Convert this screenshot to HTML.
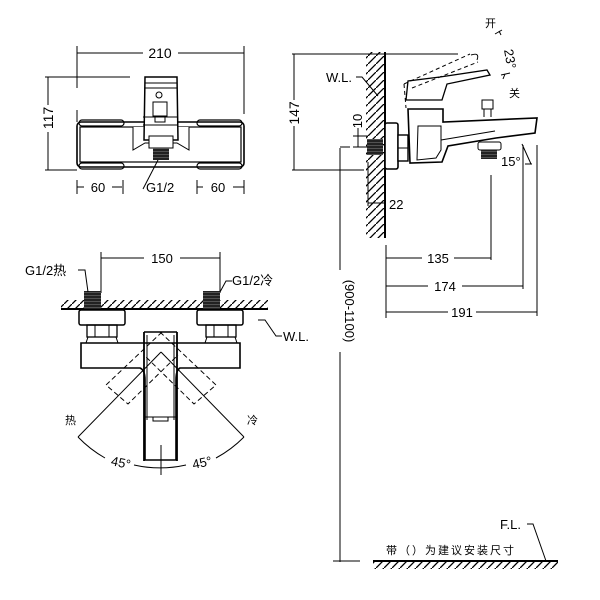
<!DOCTYPE html>
<html><head><meta charset="utf-8"><style>
html,body{margin:0;padding:0;background:#fff}
svg{display:block}
text{font-family:"Liberation Sans","Noto Sans CJK SC",sans-serif;fill:#000}
</style></head><body>
<svg width="600" height="600" viewBox="0 0 600 600" xmlns="http://www.w3.org/2000/svg">
<defs>
<pattern id="h" width="8" height="8" patternUnits="userSpaceOnUse">
<line x1="0" y1="8" x2="8" y2="0" stroke="#000" stroke-width="1.3"/>
</pattern>
<pattern id="thr" width="4" height="3" patternUnits="userSpaceOnUse">
<rect width="4" height="3" fill="#222"/><line x1="0" y1="1.5" x2="4" y2="1.5" stroke="#666" stroke-width="0.7"/>
</pattern>
</defs>
<g stroke="#000" fill="none" stroke-width="1">
<line x1="77" y1="53" x2="143" y2="53"/><line x1="178" y1="53" x2="244" y2="53"/>
<line x1="77" y1="46" x2="77" y2="88"/><line x1="244" y1="46" x2="244" y2="114"/>
<line x1="45" y1="77" x2="130" y2="77"/><line x1="45" y1="170" x2="77" y2="170"/>
<line x1="48" y1="77" x2="48" y2="105"/><line x1="48" y1="132" x2="48" y2="170"/>
<line x1="77" y1="110" x2="77" y2="122"/>
<rect x="77" y="122" width="167" height="45" rx="4" stroke-width="1.6"/>
<rect x="80" y="127" width="161" height="35" stroke-width="1.2"/>
<rect x="79" y="120" width="45" height="6" rx="3" stroke-width="1.2"/>
<rect x="197" y="120" width="45" height="6" rx="3" stroke-width="1.2"/>
<rect x="79" y="163" width="45" height="6" rx="3" stroke-width="1.2"/>
<rect x="197" y="163" width="45" height="6" rx="3" stroke-width="1.2"/>
<path d="M133 127 L133 150 L145 143 L177 143 L189 150 L189 127" fill="#fff"/>
<path d="M145 77 L177 77 L178 140 L144 140 Z" fill="#fff" stroke-width="1.5"/>
<line x1="145" y1="83" x2="177" y2="83"/><line x1="145" y1="88" x2="177" y2="88"/>
<circle cx="159" cy="95" r="3"/>
<rect x="153" y="102" width="14" height="14" fill="#fff"/>
<rect x="155" y="116" width="10" height="6"/>
<line x1="143" y1="117" x2="178" y2="117"/><line x1="143" y1="125" x2="178" y2="125"/>
<rect x="149" y="136" width="24" height="12" fill="#fff"/>
<rect x="153" y="148" width="16" height="12" fill="url(#thr)" stroke="none"/>
<line x1="158" y1="160" x2="143" y2="189"/>
<line x1="77" y1="180" x2="77" y2="194"/><line x1="77" y1="187" x2="84" y2="187"/><line x1="112" y1="187" x2="122" y2="187"/><line x1="123" y1="180" x2="123" y2="194"/>
<line x1="197" y1="180" x2="197" y2="194"/><line x1="197" y1="187" x2="203" y2="187"/><line x1="233" y1="187" x2="244" y2="187"/><line x1="244" y1="180" x2="244" y2="194"/>

<rect x="366" y="52" width="19" height="186" fill="url(#h)" stroke="none"/>
<line x1="385" y1="52" x2="385" y2="238" stroke-width="2"/>
<line x1="292" y1="54" x2="458" y2="54"/><line x1="292" y1="170" x2="364" y2="170"/>
<line x1="294" y1="54" x2="294" y2="100"/><line x1="294" y1="126" x2="294" y2="170"/>
<polyline points="356,77 362,77 378,96"/>
<line x1="353" y1="136" x2="368" y2="136"/><line x1="353" y1="147" x2="368" y2="147"/><line x1="358" y1="128" x2="358" y2="147"/>
<line x1="340" y1="147" x2="350" y2="147"/>
<rect x="367" y="139" width="16" height="16" fill="url(#thr)" stroke="none"/>
<rect x="385" y="123" width="13" height="46" rx="2" stroke-width="1.6" fill="#fff"/>
<rect x="398" y="135" width="10" height="26" stroke-width="1.4" fill="#fff"/>
<line x1="398" y1="148" x2="408" y2="148"/>
<path d="M408 109 L443 109 L443 122 L537 118 L535 133 L496 138 L448 146 L442 162 L410 163 Z" fill="#fff" stroke-width="1.6"/>
<path d="M418 126 L441 126 L441 150 L436 158 L417 160 Z"/>
<path d="M441 140 L495 131"/>
<path d="M406 100 L408 81 L440 77 L487 70 L490 75 L447 84 L442 100 Z" fill="#fff" stroke-width="1.3"/>
<path d="M404 84 L406 108 M404 84 L470 54 M412 88 L478 62" stroke-dasharray="4,3"/>
<path d="M471 55 Q480 52 477 60"/>
<rect x="482" y="100" width="11" height="9"/><line x1="484" y1="109" x2="484" y2="117"/><line x1="491" y1="109" x2="491" y2="117"/>
<rect x="478" y="142" width="23" height="8" rx="2" fill="#fff"/>
<rect x="481" y="150" width="16" height="9" fill="url(#thr)" stroke="none"/>
<line x1="495" y1="34" x2="502" y2="30"/><line x1="499" y1="31" x2="501" y2="35"/>
<line x1="501" y1="75" x2="510" y2="73"/>
<line x1="505" y1="74" x2="503" y2="79"/>
<line x1="522" y1="144" x2="531" y2="164"/><line x1="525" y1="164" x2="532" y2="164"/>
<line x1="368" y1="162" x2="368" y2="206"/><line x1="368" y1="203" x2="386" y2="203"/>
<line x1="340" y1="148" x2="340" y2="270"/><line x1="340" y1="352" x2="340" y2="562"/>
<line x1="333" y1="561" x2="360" y2="561"/>
<line x1="386" y1="245" x2="386" y2="318"/>
<line x1="491" y1="175" x2="491" y2="260"/>
<line x1="523" y1="145" x2="523" y2="289"/>
<line x1="537" y1="145" x2="537" y2="316"/>
<line x1="386" y1="258" x2="422" y2="258"/><line x1="454" y1="258" x2="491" y2="258"/>
<line x1="386" y1="286" x2="428" y2="286"/><line x1="462" y1="286" x2="523" y2="286"/>
<line x1="386" y1="312" x2="448" y2="312"/><line x1="476" y1="312" x2="537" y2="312"/>
<rect x="373" y="562" width="185" height="7" fill="url(#h)" stroke="none"/>
<line x1="373" y1="561" x2="558" y2="561" stroke-width="2"/>
<polyline points="527,524 533,524 546,561"/>

<rect x="61" y="300" width="207" height="9" fill="url(#h)" stroke="none"/>
<line x1="61" y1="309" x2="268" y2="309" stroke-width="2"/>
<line x1="101" y1="252" x2="101" y2="293"/><line x1="220" y1="252" x2="220" y2="293"/>
<line x1="101" y1="258" x2="144" y2="258"/><line x1="180" y1="258" x2="220" y2="258"/>
<rect x="84" y="291" width="17" height="18" fill="url(#thr)" stroke="none"/>
<rect x="203" y="291" width="17" height="18" fill="url(#thr)" stroke="none"/>
<polyline points="78,270 85,270 88,292"/>
<polyline points="232,281 226,281 220,292"/>
<rect x="79" y="310" width="46" height="15" rx="2" stroke-width="1.5"/>
<rect x="197" y="310" width="46" height="15" rx="2" stroke-width="1.5"/>
<rect x="87" y="325" width="30" height="12" stroke-width="1.3"/><line x1="95" y1="325" x2="95" y2="337"/><line x1="109" y1="325" x2="109" y2="337"/>
<rect x="206" y="325" width="30" height="12" stroke-width="1.3"/><line x1="214" y1="325" x2="214" y2="337"/><line x1="228" y1="325" x2="228" y2="337"/>
<path d="M88 337 L116 337 L118 343 L86 343 Z"/><path d="M207 337 L235 337 L237 343 L205 343 Z"/>
<path d="M81 343 L240 343 L240 368 L180 368 Q176 370 176 380 L176 460 L145 460 L145 380 Q145 370 140 368 L81 368 Z" fill="#fff" stroke-width="1.6"/>
<line x1="144" y1="332" x2="177" y2="332" stroke-width="1.6"/>
<line x1="144" y1="332" x2="144" y2="461" stroke-width="1.8"/><line x1="177" y1="332" x2="177" y2="461" stroke-width="1.8"/>
<line x1="147" y1="335" x2="147" y2="420"/><line x1="174" y1="335" x2="174" y2="420"/>
<path d="M145 417 L176 417 M153 417 L153 421 L168 421 L168 417"/>
<g stroke-dasharray="5,3">
<path d="M162 332 L106 385 L128 404 L178 355"/>
<path d="M160 332 L216 385 L194 404 L144 355"/>
</g>
<line x1="161" y1="352" x2="78" y2="437"/><line x1="161" y1="352" x2="244" y2="437"/>
<line x1="161" y1="445" x2="161" y2="475"/>
<path d="M78 437 A119 119 0 0 0 105 458" /><path d="M134 465 A119 119 0 0 0 186 465"/><path d="M216 458 A119 119 0 0 0 244 437"/>
<polyline points="258,320 265,320 276,336 282,336"/>
</g>
<g font-size="13">
<text x="160" y="58" text-anchor="middle" font-size="14">210</text>
<text transform="translate(53,118) rotate(-90)" text-anchor="middle" font-size="14">117</text>
<text x="98" y="192" text-anchor="middle">60</text>
<text x="218" y="192" text-anchor="middle">60</text>
<text x="146" y="192">G1/2</text>
<text transform="translate(299,113) rotate(-90)" text-anchor="middle" font-size="14">147</text>
<text x="326" y="82">W.L.</text>
<text transform="translate(362,121) rotate(-90)" text-anchor="middle">10</text>
<text x="389" y="209">22</text>
<text x="485" y="27" font-size="11">开</text>
<text transform="translate(504,50) rotate(80)" font-size="13">23°</text>
<text x="509" y="97" font-size="11">关</text>
<text x="501" y="166">15°</text>
<text transform="translate(345,311) rotate(90)" text-anchor="middle" font-size="13">(900-1100)</text>
<text x="438" y="263" text-anchor="middle">135</text>
<text x="445" y="291" text-anchor="middle">174</text>
<text x="462" y="317" text-anchor="middle">191</text>
<text x="500" y="529">F.L.</text>
<text x="386" y="554" font-size="11" letter-spacing="2">带（）为建议安装尺寸</text>
<text x="162" y="263" text-anchor="middle">150</text>
<text x="25" y="275">G1/2热</text>
<text x="232" y="285">G1/2冷</text>
<text x="283" y="341">W.L.</text>
<text x="65" y="424" font-size="11">热</text>
<text x="247" y="424" font-size="11">冷</text>
<text transform="translate(120,467) rotate(12)" text-anchor="middle">45°</text>
<text transform="translate(203,467) rotate(-12)" text-anchor="middle">45°</text>
</g>
</svg>
</body></html>
